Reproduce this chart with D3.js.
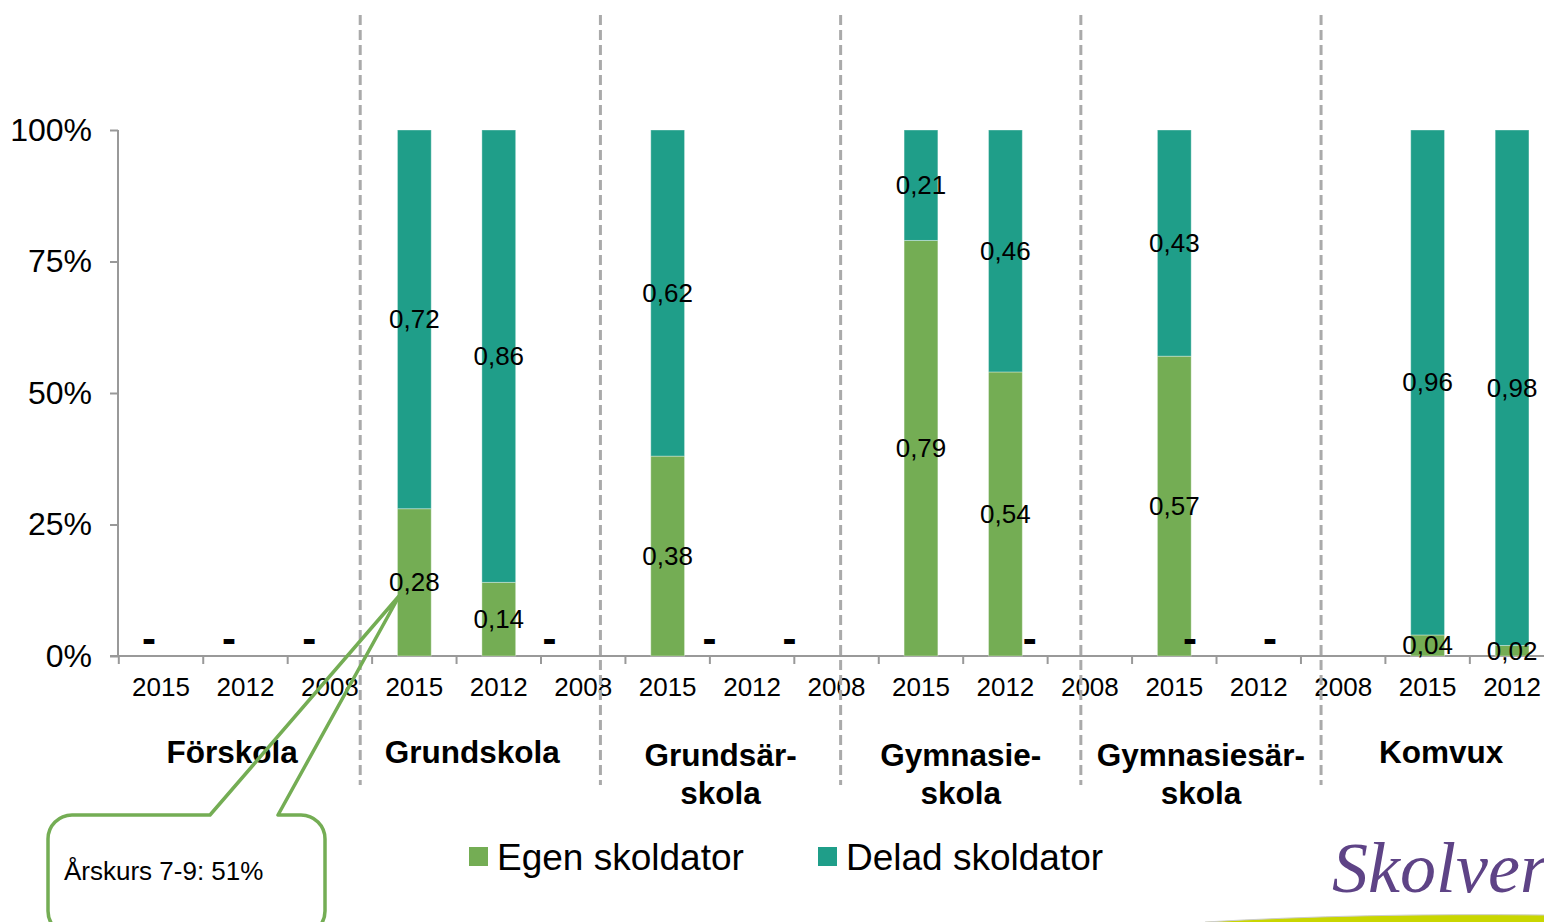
<!DOCTYPE html>
<html><head><meta charset="utf-8">
<script src="https://cdn.jsdelivr.net/npm/d3@7"></script>
<style>
html,body{margin:0;padding:0;background:#fff;}
svg{display:block;font-family:Arial,"Liberation Sans",sans-serif;}
</style></head>
<body><svg id="chart" width="1544" height="922"></svg>
<script>
// ---- data ----
const groups = [["Förskola"],["Grundskola"],["Grundsär-","skola"],["Gymnasie-","skola"],["Gymnasiesär-","skola"],["Komvux"]];
const years = ["2015","2012","2008"];
// null = no data (shown as "-"), NaN = outside the visible picture
const egen  = [null,null,null, 0.28,0.14,null, 0.38,null,null, 0.79,0.54,null, 0.57,null,null, 0.04,0.02,NaN];
const delad = [null,null,null, 0.72,0.86,null, 0.62,null,null, 0.21,0.46,null, 0.43,null,null, 0.96,0.98,NaN];
const yTicks = [0,0.25,0.5,0.75,1];
const seriesNames = ["Egen skoldator","Delad skoldator"];
const colors = ["#74AD54","#1F9E89"];
const calloutText = "Årskurs 7-9: 51%";
const calloutTarget = {slot:3, value:0.115};

// ---- layout ----
const svg = d3.select("#chart");
const nSlots = groups.length*years.length;
const slots = d3.range(nSlots);
const x = d3.scaleBand().domain(slots).range([118.8, 118.8+84.44*nSlots]).paddingInner(0.6).paddingOuter(0.3);
// overlay (separators, group titles, dash labels) was laid out on a slightly narrower grid
const xo = d3.scaleBand().domain(slots).range([120, 120+80.07*nSlots]);
const y = d3.scaleLinear().domain([0,1]).range([656,130]);
const fmt = v => d3.format(".2f")(v).replace(".",",");

// y axis
const yAxis = d3.axisLeft(y).tickValues(yTicks).tickFormat(d=>d3.format(".0%")(d)).tickSize(8).tickPadding(18);
const gy = svg.append("g").attr("transform","translate(118,0)").call(yAxis);
gy.select(".domain").attr("stroke","#999").attr("stroke-width",2).attr("d","M0,130V656");
gy.selectAll(".tick line").attr("stroke","#999").attr("stroke-width",2);
gy.selectAll(".tick text").attr("font-size",32).attr("fill","#000").attr("font-family","Arial,'Liberation Sans',sans-serif");

// x axis
const xAxisLine = svg.append("g");
xAxisLine.append("line").attr("x1",110).attr("x2",1544).attr("y1",656).attr("y2",656).attr("stroke","#999").attr("stroke-width",2);
const step = x.step();
const boundaries = d3.range(nSlots+1).map(i=>x.range()[0]+i*step);
xAxisLine.selectAll("line.tk").data(boundaries).join("line").attr("class","tk")
  .attr("x1",d=>d).attr("x2",d=>d).attr("y1",656).attr("y2",664).attr("stroke","#999").attr("stroke-width",2);
svg.append("g").selectAll("text").data(slots).join("text")
  .attr("x",i=>x(i)+x.bandwidth()/2).attr("y",696).attr("text-anchor","middle")
  .attr("font-size",26).attr("fill","#000").text(i=>years[i%3]);

// stacked bars
const rows = slots.map(i=>({i, egen:egen[i], delad:delad[i]}));
const stack = d3.stack().keys(["egen","delad"]).value((d,k)=>(d[k]==null||isNaN(d[k]))?0:d[k]);
const stacked = stack(rows);
stacked.forEach((layer,li)=>{
  const g = svg.append("g");
  const valid = layer.filter(d=>d.data[layer.key]!=null && !isNaN(d.data[layer.key]));
  g.selectAll("rect").data(valid).join("rect")
    .attr("x",d=>x(d.data.i)).attr("width",x.bandwidth())
    .attr("y",d=>y(d[1])).attr("height",d=>y(d[0])-y(d[1]))
    .attr("fill",colors[li]).attr("stroke","#ffffff").attr("stroke-opacity",0.35).attr("stroke-width",1);
});
stacked.forEach((layer,li)=>{
  const valid = layer.filter(d=>d.data[layer.key]!=null && !isNaN(d.data[layer.key]));
  svg.append("g").selectAll("text").data(valid).join("text")
    .attr("x",d=>x(d.data.i)+x.bandwidth()/2)
    .attr("y",d=>(y(d[0])+y(d[1]))/2+9)
    .attr("text-anchor","middle").attr("font-size",26).attr("fill","#000")
    .text(d=>fmt(d.data[layer.key]));
});

// dash labels for missing data
const missing = slots.filter(i=>egen[i]===null);
svg.append("g").selectAll("text").data(missing).join("text")
  .attr("x",i=>xo(i)+xo.bandwidth()/2-11).attr("y",653).attr("text-anchor","middle")
  .attr("font-size",42).attr("font-weight","bold").attr("fill","#000").text("-");

// group separators
const sepIdx = d3.range(1,groups.length).map(g=>g*3);
svg.append("g").selectAll("line").data(sepIdx).join("line")
  .attr("x1",i=>xo(i)).attr("x2",i=>xo(i)).attr("y1",15).attr("y2",785)
  .attr("stroke","#aaa").attr("stroke-width",3).attr("stroke-dasharray","10,5");

// group titles
const gt = svg.append("g").selectAll("text").data(groups).join("text")
  .attr("text-anchor","middle").attr("font-size",31.5).attr("font-weight","bold").attr("fill","#000")
  .attr("x",(d,g)=>xo(g*3)+1.5*xo.step()-(g<2?8:0));
gt.each(function(lines){
  const t=d3.select(this);
  lines.forEach((l,k)=>t.append("tspan").attr("x",t.attr("x")).attr("y",(lines.length===1?763:766)+k*38).text(l));
});

// legend
const lg = svg.append("g");
const legX = [469, 818];
seriesNames.forEach((n,k)=>{
  lg.append("rect").attr("x",legX[k]).attr("y",847).attr("width",19).attr("height",19).attr("fill",colors[k]);
  lg.append("text").attr("x",legX[k]+28).attr("y",870).attr("font-size",37).attr("fill","#000").text(n);
});

// callout
const tipX = x(calloutTarget.slot)+2, tipY = y(calloutTarget.value);
const bx0=48, by0=815, bx1=325, by1=935, r=24;
const path = d3.path();
path.moveTo(210,by0);
path.lineTo(tipX,tipY);
path.lineTo(278,by0);
path.lineTo(bx1-r,by0);
path.arcTo(bx1,by0,bx1,by0+r,r);
path.lineTo(bx1,by1-r);
path.arcTo(bx1,by1,bx1-r,by1,r);
path.lineTo(bx0+r,by1);
path.arcTo(bx0,by1,bx0,by1-r,r);
path.lineTo(bx0,by0+r);
path.arcTo(bx0,by0,bx0+r,by0,r);
path.closePath();
svg.append("path").attr("d",path.toString()).attr("fill","none").attr("stroke","#74AD54").attr("stroke-width",3.5).attr("stroke-linejoin","round");
svg.append("text").attr("x",64).attr("y",880).attr("font-size",26).attr("fill","#000").text(calloutText);

// logo
svg.append("path").attr("d","M1205,922 Q1360,913 1544,915 L1544,922 Z").attr("fill","#C9D600");
svg.append("path").attr("d","M1205,922 Q1360,913 1544,915").attr("fill","none").attr("stroke","#ccc").attr("stroke-width",1);
svg.append("text").attr("x",1332).attr("y",892).attr("font-size",72).attr("font-style","italic")
  .attr("font-family","'Liberation Serif','DejaVu Serif',serif").attr("fill","#5E4386").text("Skolverket");
</script>
</body></html>
